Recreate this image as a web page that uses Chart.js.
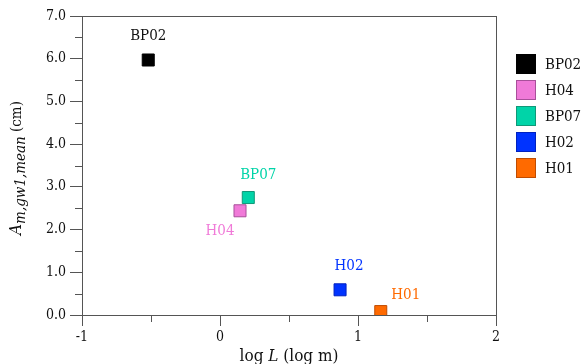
<!DOCTYPE html>
<html>
<head>
<meta charset="utf-8">
<script src="https://cdn.jsdelivr.net/npm/chart.js@4.4.0/dist/chart.umd.min.js"></script>
<style>
  html,body{margin:0;padding:0;background:#fff;}
  #wrap{width:583px;height:364px;position:relative;}
</style>
</head>
<body>
<div id="wrap"><canvas id="chart"></canvas></div>
<script>
// -------------------- data
var wellNames = ['BP02','H04','BP07','H02','H01'];
var logL      = [-0.52, 0.145, 0.205, 0.87, 1.165];
var amplitude = [5.97, 2.44, 2.75, 0.59, 0.08];
var fillCols  = ['#000000','#f07ad8','#00d4a8','#0033ff','#ff6a00'];
var edgeCols  = ['#000000','#a8509a','#109878','#0022c0','#c04c00'];
var xTicks    = [-1, 0, 1, 2];
var yTicks    = [0, 1, 2, 3, 4, 5, 6, 7];

var FONT = '"DejaVu Serif Condensed", "DejaVu Serif", serif';
var axisCol = '#555555';

// where each point label goes (dx, dy from the marker centre, align)
var labelPos = [
  [0, -24, 'center'],
  [-20, 20, 'center'],
  [10, -22, 'center'],
  [9, -24, 'center'],
  [25, -16, 'center']
];

var dtsheet = [];
for (var i = 0; i < wellNames.length; i++) {
  dtsheet[i] = {
    label: wellNames[i],
    data: [{x: logL[i], y: amplitude[i]}],
    backgroundColor: fillCols[i],
    borderColor: edgeCols[i],
    borderWidth: 1,
    pointStyle: 'rect',
    pointRadius: 8.5,
    pointHoverRadius: 8.5
  };
}

// minor ticks, frame, labels, titles, legend
var extras = {
  id: 'extras',
  afterDraw: function(chart) {
    var ctx = chart.ctx, ca = chart.chartArea;
    var xs = chart.scales.x, ys = chart.scales.y;
    ctx.save();
    ctx.strokeStyle = axisCol;
    ctx.lineWidth = 1;
    // frame
    ctx.strokeRect(Math.round(ca.left) + 0.5, Math.round(ca.top) + 0.5,
                   Math.round(ca.right - ca.left), Math.round(ca.bottom - ca.top));
    // minor ticks
    ctx.beginPath();
    for (var v = -0.5; v < 2; v += 1) {
      var px = Math.round(xs.getPixelForValue(v)) + 0.5;
      ctx.moveTo(px, ca.bottom); ctx.lineTo(px, ca.bottom + 7);
    }
    for (var w = 0.5; w < 7; w += 1) {
      var py = Math.round(ys.getPixelForValue(w)) + 0.5;
      ctx.moveTo(ca.left, py); ctx.lineTo(ca.left - 7, py);
    }
    ctx.stroke();

    // point labels
    ctx.font = '15px ' + FONT;
    ctx.textBaseline = 'middle';
    for (var i = 0; i < wellNames.length; i++) {
      var cx = xs.getPixelForValue(logL[i]);
      var cy = ys.getPixelForValue(amplitude[i]);
      ctx.fillStyle = i == 0 ? '#111' : fillCols[i];
      ctx.textAlign = labelPos[i][2];
      ctx.fillText(wellNames[i], cx + labelPos[i][0], cy + labelPos[i][1]);
    }

    // x title
    ctx.fillStyle = '#111';
    ctx.textBaseline = 'alphabetic';
    ctx.textAlign = 'left';
    var parts = [['log ', 'normal'], ['L', 'italic'], [' (log m)', 'normal']];
    var tw = 0;
    parts.forEach(function(p){ ctx.font = p[1] + ' 17px ' + FONT; tw += ctx.measureText(p[0]).width; });
    var tx = (ca.left + ca.right) / 2 - tw / 2;
    parts.forEach(function(p){
      ctx.font = p[1] + ' 17px ' + FONT;
      ctx.fillText(p[0], tx, 361);
      tx += ctx.measureText(p[0]).width;
    });

    // y title (rotated, with subscript)
    ctx.save();
    ctx.translate(21, 168);
    ctx.rotate(-Math.PI / 2);
    var yparts = [['A', 'italic 17px ', 0], ['m,gw1,mean', 'italic 15px ', 4], [' (cm)', '15px ', 0]];
    var yw = 0;
    yparts.forEach(function(p){ ctx.font = p[1] + FONT; yw += ctx.measureText(p[0]).width; });
    var yx = -yw / 2;
    yparts.forEach(function(p){
      ctx.font = p[1] + FONT;
      ctx.fillText(p[0], yx, p[2]);
      yx += ctx.measureText(p[0]).width;
    });
    ctx.restore();

    // legend
    ctx.font = '15px ' + FONT;
    ctx.textAlign = 'left';
    ctx.textBaseline = 'middle';
    for (var k = 0; k < wellNames.length; k++) {
      var ly = 54 + k * 26;
      ctx.fillStyle = fillCols[k];
      ctx.fillRect(516, ly, 20, 20);
      ctx.strokeStyle = edgeCols[k];
      ctx.strokeRect(516.5, ly + 0.5, 19, 19);
      ctx.fillStyle = '#111';
      ctx.fillText(wellNames[k], 545, ly + 11);
    }
    ctx.restore();
  }
};

var ctx = document.getElementById('chart').getContext('2d');
window.chart = new Chart(ctx, {
  type: 'scatter',
  data: { datasets: dtsheet },
  options: {
    responsive: true,
    maintainAspectRatio: false,
    animation: false,
    layout: { padding: { top: 16, right: 87, left: 0, bottom: 0 } },
    plugins: { legend: { display: false }, tooltip: { enabled: false } },
    scales: {
      x: {
        type: 'linear', min: -1, max: 2,
        afterBuildTicks: function(s){ s.ticks = xTicks.map(function(v){ return {value: v}; }); },
        afterFit: function(s){ s.height = 49; },
        ticks: { font: { family: FONT, size: 14 }, color: '#111', padding: 3, maxRotation: 0 },
        grid: { drawOnChartArea: false, tickLength: 11, color: axisCol },
        border: { color: axisCol }
      },
      y: {
        type: 'linear', min: 0, max: 7,
        afterBuildTicks: function(s){ s.ticks = yTicks.map(function(v){ return {value: v}; }); },
        afterFit: function(s){ s.width = 82; },
        ticks: { font: { family: FONT, size: 14 }, color: '#111', padding: 4,
                 callback: function(v){ return Number(v).toFixed(1); } },
        grid: { drawOnChartArea: false, tickLength: 12, color: axisCol },
        border: { color: axisCol }
      }
    }
  },
  plugins: [extras]
});
</script>
</body>
</html>
